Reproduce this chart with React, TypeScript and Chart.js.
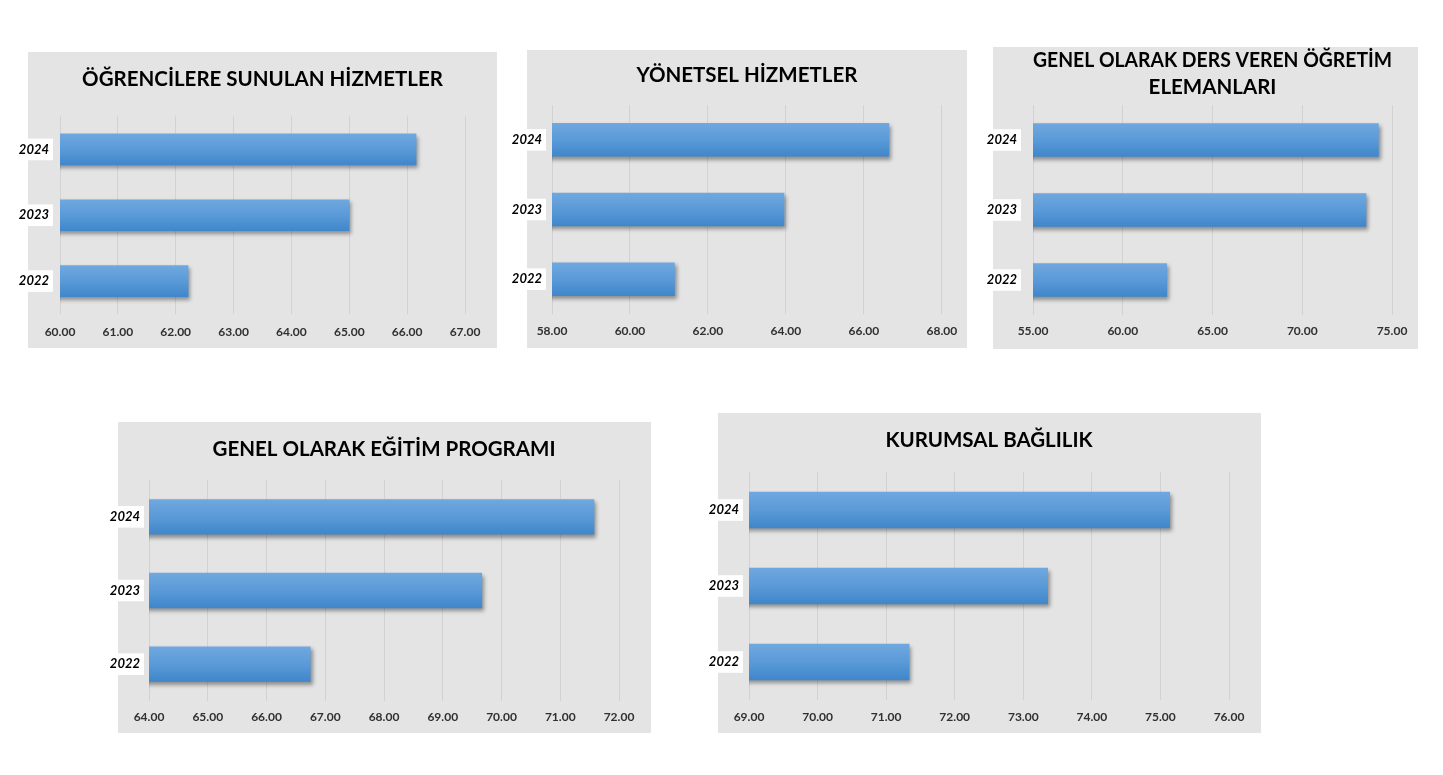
import React, { useEffect, useRef } from 'react';
import { Chart, registerables } from 'chart.js';

Chart.register(...registerables);

// ---------- data ----------
const years = ['2024', '2023', '2022'];
const ogrenciHizmet = [66.16, 65.0, 62.22];
const yonetselHizmet = [66.65, 63.96, 61.15];
const ogretimElemani = [74.26, 73.57, 62.47];
const egitimProgrami = [71.58, 69.67, 66.75];
const kurumsalBaglilik = [75.14, 73.36, 71.34];

const title1 = 'ÖĞRENCİLERE SUNULAN HİZMETLER';
const title2 = 'YÖNETSEL HİZMETLER';
const title3 = ['GENEL OLARAK DERS VEREN ÖĞRETİM', 'ELEMANLARI'];
const title4 = 'GENEL OLARAK EĞİTİM PROGRAMI';
const title5 = 'KURUMSAL BAĞLILIK';

// axis ranges [min, max, step]
const range1 = [60, 67, 1];
const range2 = [58, 68, 2];
const range3 = [55, 75, 5];
const range4 = [64, 72, 1];
const range5 = [69, 76, 1];

// ---------- layout / style ----------
const LABEL_SPACE = 25;
const TITLE_SIZE = 20.5;
const TITLE_LH = 1.35;
const BAR_PCT = 0.48;
const PANEL_BG = '#e4e4e4';

type Panel = {
  title: string | string[];
  values: number[];
  range: number[];
  box: { l: number; t: number; r: number; b: number };
  plotL: number;
  plotR: number;
  areaTop: number;
  areaBottom: number;
  titleY: number;
  tickY: number;
  yPad: number;
};

const panels: Panel[] = [
  { title: title1, values: ogrenciHizmet, range: range1, box: { l: 28, t: 52, r: 497, b: 348 }, plotL: 60, plotR: 465, areaTop: 116.5, areaBottom: 314, titleY: 79, tickY: 332, yPad: 11 },
  { title: title2, values: yonetselHizmet, range: range2, box: { l: 527, t: 50, r: 967, b: 348 }, plotL: 552, plotR: 943, areaTop: 105, areaBottom: 314, titleY: 75, tickY: 331, yPad: 10 },
  { title: title3, values: ogretimElemani, range: range3, box: { l: 993, t: 47, r: 1418, b: 349 }, plotL: 1033, plotR: 1392, areaTop: 105, areaBottom: 315, titleY: 60, tickY: 331, yPad: 16 },
  { title: title4, values: egitimProgrami, range: range4, box: { l: 118, t: 422, r: 651, b: 733 }, plotL: 149, plotR: 619, areaTop: 480, areaBottom: 701, titleY: 449, tickY: 717, yPad: 9 },
  { title: title5, values: kurumsalBaglilik, range: range5, box: { l: 718, t: 413, r: 1261, b: 733 }, plotL: 749, plotR: 1229, areaTop: 472, areaBottom: 700, titleY: 440, tickY: 717, yPad: 10 },
];

const bgPlugin = {
  id: 'panelBg',
  beforeDraw(chart: any, _args: any, opts: any) {
    const c = chart.ctx;
    c.save();
    c.fillStyle = opts.color;
    c.fillRect(opts.x, 0, opts.w, chart.height);
    c.restore();
  },
};

const shadowPlugin = {
  id: 'barShadow',
  beforeDatasetsDraw(chart: any) {
    const c = chart.ctx;
    c.save();
    c.shadowColor = 'rgba(0,0,0,0.38)';
    c.shadowBlur = 4;
    c.shadowOffsetX = 2;
    c.shadowOffsetY = 3;
  },
  afterDatasetsDraw(chart: any) {
    chart.ctx.restore();
  },
};

function PanelChart({ p }: { p: Panel }) {
  const ref = useRef<HTMLCanvasElement | null>(null);
  const canvasLeft = p.box.l - LABEL_SPACE;
  const width = p.box.r - canvasLeft;
  const height = p.box.b - p.box.t;

  useEffect(() => {
    if (!ref.current) return;
    const lines = Array.isArray(p.title) ? p.title.length : 1;
    const lh = TITLE_SIZE * TITLE_LH;
    const tPadTop = p.titleY - p.box.t - lh / 2;
    const tPadBottom = p.areaTop - p.box.t - tPadTop - lines * lh;
    const xTickPad = p.tickY - p.areaBottom - (12 * 1.2) / 2;
    const yWidth = p.plotL - canvasLeft;
    const xHeight = p.box.b - p.areaBottom;

    const chart = new Chart(ref.current, {
      type: 'bar',
      data: {
        labels: years,
        datasets: [
          {
            data: p.values,
            backgroundColor: (ctx: any) => {
              const ch = ctx.chart;
              const ys = ch.scales && ch.scales.y;
              if (!ys || !ch.chartArea) return '#5b9bd5';
              const cy = ys.getPixelForValue(ctx.dataIndex);
              const band = (ch.chartArea.bottom - ch.chartArea.top) / years.length;
              const h = (band * BAR_PCT) / 2;
              const g = ch.ctx.createLinearGradient(0, cy - h, 0, cy + h);
              g.addColorStop(0, '#70a8df');
              g.addColorStop(0.5, '#5a9ad8');
              g.addColorStop(1, '#3f86ca');
              return g;
            },
            borderWidth: 0,
            barPercentage: BAR_PCT,
            categoryPercentage: 1,
          },
        ],
      },
      options: {
        animation: false,
        responsive: false,
        indexAxis: 'y',
        layout: { padding: { left: 0, top: 0, bottom: 0, right: p.box.r - p.plotR } },
        plugins: {
          legend: { display: false },
          tooltip: { enabled: false },
          title: {
            display: true,
            text: p.title,
            fullSize: false,
            color: '#000',
            font: { family: 'Lato', size: TITLE_SIZE, weight: 'bold', lineHeight: TITLE_LH },
            padding: { top: tPadTop, bottom: tPadBottom },
          },
          panelBg: { x: LABEL_SPACE, w: p.box.r - p.box.l, color: PANEL_BG },
        } as any,
        scales: {
          x: {
            min: p.range[0],
            max: p.range[1],
            afterFit: (s: any) => {
              s.height = xHeight;
            },
            ticks: {
              stepSize: p.range[2],
              callback: (v: any) => Number(v).toFixed(2),
              font: { family: 'Lato', size: 12, weight: 'bold' },
              color: '#303030',
              padding: xTickPad,
              maxRotation: 0,
            },
            grid: { color: '#d2d2d2', lineWidth: 1, drawTicks: false },
            border: { display: false },
          },
          y: {
            afterFit: (s: any) => {
              s.width = yWidth;
            },
            ticks: {
              font: { family: 'Lato', size: 13, weight: 'bold', style: 'italic' },
              color: '#000',
              padding: p.yPad,
              showLabelBackdrop: true,
              backdropColor: '#ffffff',
              backdropPadding: { top: 3, bottom: 3, left: 3, right: 4 },
            },
            grid: { display: false, drawTicks: false },
            border: { display: false },
          },
        },
      } as any,
      plugins: [bgPlugin, shadowPlugin],
    });
    return () => chart.destroy();
  }, []);

  return (
    <canvas
      ref={ref}
      width={width}
      height={height}
      style={{ position: 'absolute', left: canvasLeft, top: p.box.t, width, height }}
    />
  );
}

export default function App() {
  return (
    <div
      style={{
        position: 'absolute',
        left: 0,
        top: 0,
        width: 1443,
        height: 775,
        background: '#ffffff',
        overflow: 'hidden',
      }}
    >
      {panels.map((p, i) => (
        <PanelChart key={i} p={p} />
      ))}
    </div>
  );
}
